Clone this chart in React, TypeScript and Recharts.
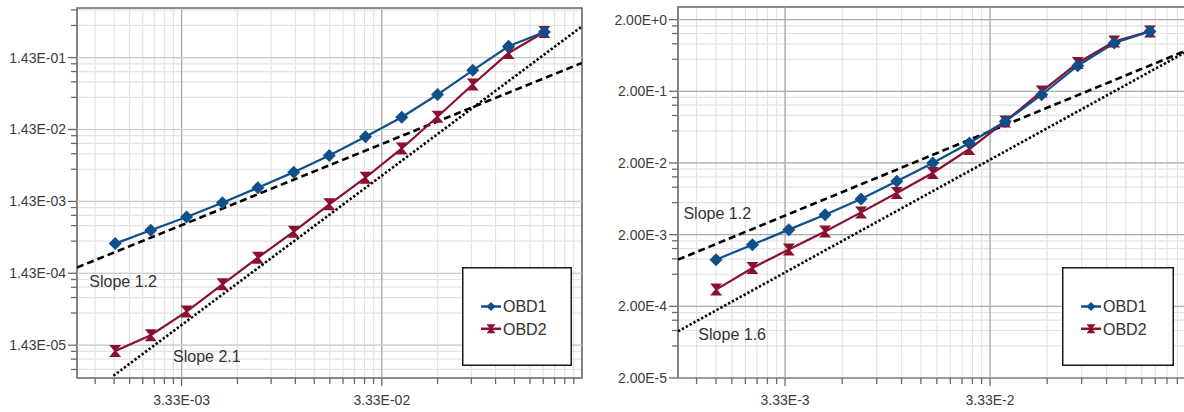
import React from 'react';
import {
  ComposedChart,
  Line,
  XAxis,
  YAxis,
  CartesianGrid,
  ReferenceLine,
  ReferenceArea,
  ReferenceDot,
} from 'recharts';

const FONT = '"Liberation Sans", Arial, Helvetica, sans-serif';
const BLUE = '#0e4f8c';
const RED = '#8a0f30';

// ---- left panel ----
const hLeft = [1.551e-3, 2.335e-3, 3.527e-3, 5.326e-3, 8.01e-3, 1.21e-2, 1.82e-2, 2.76e-2, 4.19e-2, 6.32e-2, 9.48e-2, 0.1431, 0.216];
const obd1Left = [3.7e-4, 5.66e-4, 8.65e-4, 1.37e-3, 2.22e-3, 3.65e-3, 6.22e-3, 1.13e-2, 2.12e-2, 4.38e-2, 9.5e-2, 0.205, 0.325];
const obd2Left = [1.19e-5, 1.97e-5, 4.2e-5, 1.005e-4, 2.36e-4, 5.43e-4, 1.3e-3, 3.05e-3, 7.79e-3, 2.15e-2, 6.03e-2, 0.166, 0.325];
const dashedLeft = [{ x: 1e-3, y: 1.72e-4 }, { x: 0.333, y: 0.1207 }];
const dottedLeft = [{ x: 1.52e-3, y: 5.36e-6 }, { x: 0.333, y: 0.389 }];
const xMajorLeft = [3.33e-3, 3.33e-2];
const xLabelsLeft = ['3.33E-03', '3.33E-02'];
const yMajorLeft = [1.43e-5, 1.43e-4, 1.43e-3, 1.43e-2, 1.43e-1];
const yLabelsLeft = ['1.43E-05', '1.43E-04', '1.43E-03', '1.43E-02', '1.43E-01'];
const notesLeft = [
  { x: 1.152e-3, y: 1.118e-4, text: 'Slope 1.2' },
  { x: 3.02e-3, y: 1.015e-5, text: 'Slope 2.1' },
];

// ---- right panel ----
const hRight = [1.534e-3, 2.307e-3, 3.472e-3, 5.22e-3, 7.82e-3, 1.168e-2, 1.75e-2, 2.64e-2, 3.95e-2, 5.95e-2, 8.92e-2, 0.1344, 0.2008];
const obd1Right = [8.96e-4, 1.45e-3, 2.35e-3, 3.8e-3, 6.29e-3, 1.11e-2, 2.0e-2, 3.8e-2, 7.6e-2, 0.179, 0.455, 0.944, 1.37];
const obd2Right = [3.42e-4, 6.86e-4, 1.24e-3, 2.22e-3, 4.09e-3, 7.63e-3, 1.45e-2, 3.13e-2, 7.6e-2, 0.199, 0.497, 0.99, 1.37];
const dashedRight = [{ x: 1e-3, y: 8.96e-4 }, { x: 0.333, y: 0.832 }];
const dottedRight = [{ x: 1e-3, y: 8.96e-5 }, { x: 0.333, y: 0.832 }];
const xMajorRight = [3.33e-3, 3.33e-2];
const xLabelsRight = ['3.33E-3', '3.33E-2'];
const yMajorRight = [2e-5, 2e-4, 2e-3, 2e-2, 2e-1, 2e0];
const yLabelsRight = ['2.00E-5', '2.00E-4', '2.00E-3', '2.00E-2', '2.00E-1', '2.00E+0'];
const notesRight = [
  { x: 1.063e-3, y: 4.02e-3, text: 'Slope 1.2' },
  { x: 1.257e-3, y: 8.06e-5, text: 'Slope 1.6' },
];

// minor tick multipliers of the decade below each major
const xMinorSteps = [1.9, 2.8, 3.7, 4.6, 5.5, 6.4, 7.3, 8.2, 9.1];
const yMinorSteps = [2.8, 4.6, 6.4, 8.2];

const buildTicks = (majors: number[], steps: number[], domain: [number, number]) => {
  const out = [...majors];
  [majors[0] / 10, ...majors].forEach((b) =>
    steps.forEach((s) => {
      const v = b * s;
      if (v >= domain[0] && v <= domain[1]) out.push(v);
    })
  );
  return out.sort((a, b) => a - b);
};

const findMajor = (majors: number[], v: number) => majors.findIndex((m) => Math.abs(m / v - 1) < 1e-6);

const makeXTick = (majors: number[], labels: string[]) => (props: any) => {
  const { x, y, payload } = props;
  const idx = findMajor(majors, payload.value);
  return (
    <g>
      <line x1={x} x2={x} y1={y} y2={y + (idx >= 0 ? 8 : 6)} stroke="#6a6a6a" strokeWidth={1.3} />
      {idx >= 0 && (
        <text x={x} y={y + 27} textAnchor="middle" fontSize={14} fill="#3c3c3c" fontFamily={FONT}>
          {labels[idx]}
        </text>
      )}
    </g>
  );
};

const makeYTick = (majors: number[], labels: string[]) => (props: any) => {
  const { x, y, payload } = props;
  const idx = findMajor(majors, payload.value);
  return (
    <g>
      <line x1={x - (idx >= 0 ? 9 : 6)} x2={x} y1={y} y2={y} stroke="#6a6a6a" strokeWidth={1.3} />
      {idx >= 0 && (
        <text x={x - 11} y={y + 5} textAnchor="end" fontSize={14} fill="#3c3c3c" fontFamily={FONT}>
          {labels[idx]}
        </text>
      )}
    </g>
  );
};

const Diamond = ({ cx, cy, fill, s = 6.5 }: any) =>
  cx == null ? null : <path d={`M${cx},${cy - s}L${cx + s},${cy}L${cx},${cy + s}L${cx - s},${cy}Z`} fill={fill} />;

const Hourglass = ({ cx, cy, fill, s = 6 }: any) =>
  cx == null ? null : (
    <path
      d={`M${cx - s},${cy - s}L${cx + s},${cy - s}L${cx + 1},${cy}L${cx + s},${cy + s}L${cx - s},${cy + s}L${cx - 1},${cy}Z`}
      fill={fill}
    />
  );

const LegendBox = ({ left, top, width, height }: any) => (
  <svg style={{ position: 'absolute', left, top }} width={width} height={height}>
    <rect x={0.75} y={0.75} width={width - 1.5} height={height - 1.5} fill="#fff" stroke="#1a1a1a" strokeWidth={1.5} />
    {[
      { name: 'OBD1', color: BLUE, Mark: Diamond, s: 4.5 },
      { name: 'OBD2', color: RED, Mark: Hourglass, s: 4.5 },
    ].map((it, i) => (
      <g key={it.name}>
        <line x1={19} x2={39} y1={39.5 + i * 22.3} y2={39.5 + i * 22.3} stroke={it.color} strokeWidth={2.5} />
        <it.Mark cx={29} cy={39.5 + i * 22.3} fill={it.color} s={it.s} />
        <text x={41} y={45.3 + i * 22.3} fontSize={16} fill="#333" fontFamily={FONT}>
          {it.name}
        </text>
      </g>
    ))}
  </svg>
);

function Panel(props: any) {
  const { left, width, axisWidth, top, right, h, obd1, obd2, dashed, dotted, xMajor, xLabels, yMajor, yLabels, yDomain, notes, hGrid } = props;
  const xDomain: [number, number] = [1e-3, 0.333];
  const xTicks = buildTicks(xMajor, xMinorSteps, xDomain);
  const yTicks = buildTicks(yMajor, yMinorSteps, yDomain);
  const s1 = h.map((x: number, i: number) => ({ x, y: obd1[i] }));
  const s2 = h.map((x: number, i: number) => ({ x, y: obd2[i] }));
  return (
    <div style={{ position: 'absolute', left, top: 0, fontFamily: FONT }}>
      <ComposedChart width={width} height={412} margin={{ top, right, bottom: 0, left: 0 }}>
        <CartesianGrid stroke="#e2e2e2" strokeWidth={1.2} />
        <XAxis
          type="number"
          dataKey="x"
          scale="log"
          domain={xDomain}
          allowDataOverflow
          ticks={xTicks}
          interval={0}
          height={34}
          tickSize={0}
          tickMargin={0}
          axisLine={false}
          tickLine={false}
          tick={makeXTick(xMajor, xLabels)}
        />
        <YAxis
          type="number"
          dataKey="y"
          scale="log"
          domain={yDomain}
          allowDataOverflow
          ticks={yTicks}
          interval={0}
          width={axisWidth}
          tickSize={0}
          tickMargin={0}
          axisLine={false}
          tickLine={false}
          tick={makeYTick(yMajor, yLabels)}
        />
        {xMajor.map((v: number) => (
          <ReferenceLine key={'vx' + v} x={v} stroke="#a6a6a6" strokeWidth={1.2} />
        ))}
        {yMajor.map((v: number) => (
          <ReferenceLine key={'hy' + v} y={v} stroke={hGrid} strokeWidth={1.2} />
        ))}
        <Line data={dashed} dataKey="y" stroke="#000" strokeWidth={2.6} strokeDasharray="7 4" dot={false} isAnimationActive={false} />
        <Line data={dotted} dataKey="y" stroke="#000" strokeWidth={2.6} strokeDasharray="2.4 2" dot={false} isAnimationActive={false} />
        <Line
          data={s2}
          dataKey="y"
          name="OBD2"
          stroke={RED}
          strokeWidth={2.2}
          dot={(p: any) => <Hourglass key={'r' + p.index} cx={p.cx} cy={p.cy} fill={RED} />}
          isAnimationActive={false}
        />
        <Line
          data={s1}
          dataKey="y"
          name="OBD1"
          stroke={BLUE}
          strokeWidth={2.2}
          dot={(p: any) => <Diamond key={'b' + p.index} cx={p.cx} cy={p.cy} fill={BLUE} />}
          isAnimationActive={false}
        />
        {notes.map((n: any) => (
          <ReferenceDot
            key={n.text}
            x={n.x}
            y={n.y}
            r={0}
            fill="none"
            stroke="none"
            label={{ value: n.text, position: 'right', offset: 0, fontSize: 16, fill: '#333' }}
          />
        ))}
        <ReferenceArea x1={xDomain[0]} x2={xDomain[1]} y1={yDomain[0]} y2={yDomain[1]} fill="none" fillOpacity={0} stroke="#6a6a6a" strokeWidth={1.6} />
      </ComposedChart>
      <LegendBox left={461.7} top={266.7} width={props.legendWidth} height={99} />
    </div>
  );
}

export default function App() {
  return (
    <div style={{ position: 'fixed', left: 0, top: 0, width: 1184, height: 412, overflow: 'hidden', background: '#fff' }}>
      <Panel
        left={0}
        width={600}
        axisWidth={77}
        top={8}
        right={18}
        h={hLeft}
        obd1={obd1Left}
        obd2={obd2Left}
        dashed={dashedLeft}
        dotted={dottedLeft}
        xMajor={xMajorLeft}
        xLabels={xLabelsLeft}
        yMajor={yMajorLeft}
        yLabels={yLabelsLeft}
        yDomain={[5e-6, 0.7]}
        notes={notesLeft}
        hGrid="#cbcbcb"
        legendWidth={110}
      />
      <Panel
        left={600}
        width={620}
        axisWidth={78}
        top={7}
        right={25}
        h={hRight}
        obd1={obd1Right}
        obd2={obd2Right}
        dashed={dashedRight}
        dotted={dottedRight}
        xMajor={xMajorRight}
        xLabels={xLabelsRight}
        yMajor={yMajorRight}
        yLabels={yLabelsRight}
        yDomain={[2e-5, 3]}
        notes={notesRight}
        hGrid="#adadad"
        legendWidth={112}
      />
    </div>
  );
}
